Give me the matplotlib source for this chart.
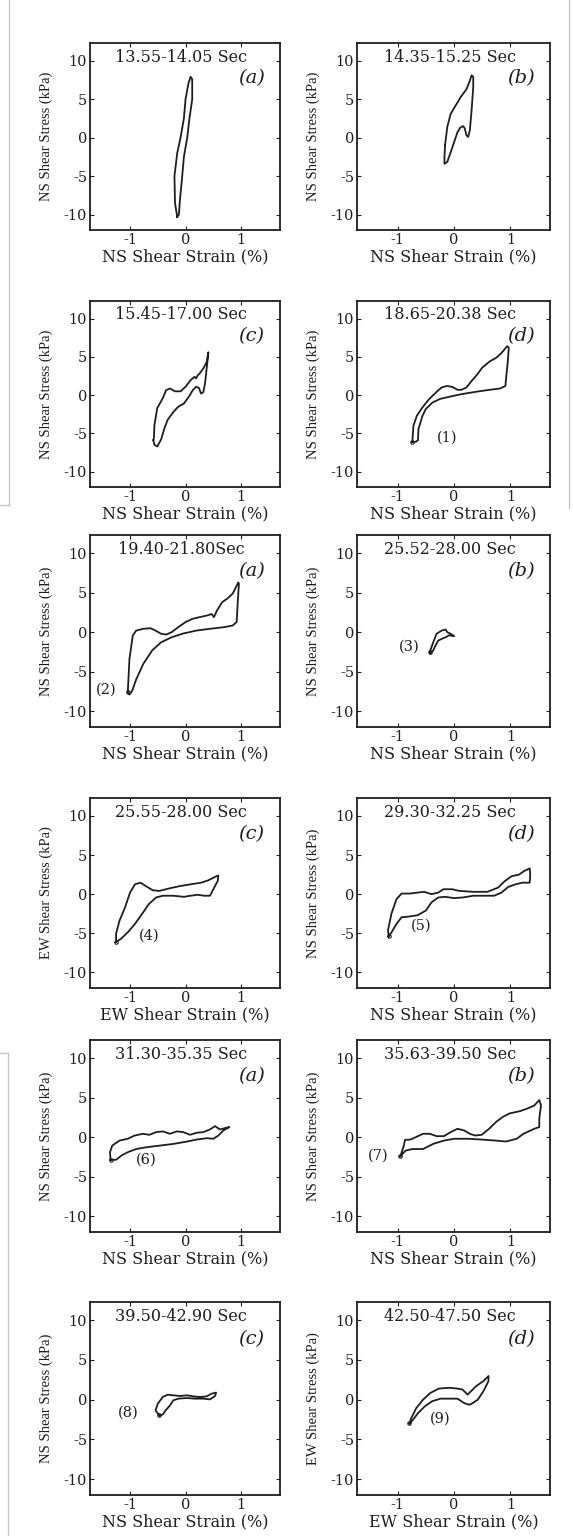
import matplotlib
matplotlib.use("Agg")
import matplotlib.pyplot as plt
from matplotlib.lines import Line2D

plt.rcParams["axes.unicode_minus"] = False
plt.rcParams["font.family"] = "DejaVu Serif"

# Time windows, panel letters and directions for the 12 stress-strain loops
windows = ["13.55-14.05 Sec", "14.35-15.25 Sec", "15.45-17.00 Sec", "18.65-20.38 Sec",
           "19.40-21.80Sec", "25.52-28.00 Sec", "25.55-28.00 Sec", "29.30-32.25 Sec",
           "31.30-35.35 Sec", "35.63-39.50 Sec", "39.50-42.90 Sec", "42.50-47.50 Sec"]
letters = ["(a)", "(b)", "(c)", "(d)", "(a)", "(b)", "(c)", "(d)", "(a)", "(b)", "(c)", "(d)"]
directions = ["NS", "NS", "NS", "NS", "NS", "NS", "EW", "NS", "NS", "NS", "NS", "EW"]

# loop number labels and where they sit (strain %, stress kPa)
loop_labels = [None, None, None, "(1)", "(2)", "(3)", "(4)", "(5)", "(6)", "(7)", "(8)", "(9)"]
loop_label_x = [0, 0, 0, -0.12, -1.42, -0.8, -0.66, -0.59, -0.71, -1.35, -1.04, -0.24]
loop_label_y = [0, 0, 0, -5.5, -7.3, -1.8, -5.3, -4.0, -2.8, -2.3, -1.6, -2.4]

strain_1 = [-0.15, -0.19, -0.2, -0.15, -0.09, -0.03, 0.0, 0.05, 0.09, 0.12, 0.12, 0.07, 0.03,
            -0.03, -0.06, -0.1, -0.12, -0.15]
stress_1 = [-10.3, -8.5, -5, -2, 0, 2.5, 5, 7, 7.9, 7.6, 5, 2.5, 0, -2.5, -5, -8, -10, -10.3]

strain_2 = [-0.16, -0.12, -0.06, 0.03, 0.12, 0.22, 0.28, 0.31, 0.34, 0.34, 0.31, 0.28, 0.25,
            0.22, 0.19, 0.16, 0.11, 0.06, 0.0, -0.06, -0.12, -0.17, -0.17, -0.16]
stress_2 = [-1.0, 1.4, 3.1, 4.2, 5.3, 6.3, 7.4, 8.1, 7.9, 6.6, 3.5, 0.95, 0.1,
            0.3, 1.2, 1.5, 1.3, 0.7, -0.6, -1.9, -3.15, -3.4, -2.5, -1.0]

strain_3 = [-0.58, -0.57, -0.56, -0.51, -0.41, -0.35, -0.28, -0.19, -0.09, 0.0, 0.09, 0.16,
            0.19, 0.22, 0.25, 0.32, 0.38, 0.41, 0.41, 0.38, 0.35, 0.32, 0.28, 0.24, 0.19, 0.13,
            0.06, -0.03, -0.13, -0.22, -0.32, -0.38, -0.44, -0.51, -0.56, -0.58]
stress_3 = [-5.9, -5.6, -3.9, -1.7, -0.4, 0.65, 0.87, 0.5, 0.5, 1.1, 1.95, 2.4,
            2.2, 2.6, 2.8, 3.5, 4.3, 5.6, 5.4, 3.5, 1.5, 0.4, 0.2, 0.95, 1.1, 0.65,
            -0.2, -1.1, -1.5, -2.2, -3.2, -4.3, -5.8, -6.7, -6.5, -5.9]

strain_4 = [-0.74, -0.72, -0.66, -0.56, -0.44, -0.31, -0.22, -0.13, -0.03, 0.06, 0.13, 0.22,
            0.31, 0.41, 0.5, 0.63, 0.75, 0.84, 0.94, 0.97, 0.95, 0.92, 0.91, 0.81, 0.63, 0.38,
            0.13, -0.06, -0.25, -0.38, -0.5, -0.56, -0.63, -0.64, -0.68, -0.74]
stress_4 = [-6.1, -4.0, -2.7, -1.6, -0.5, 0.43, 1.0, 1.2, 1.08, 0.7, 0.7, 1.0,
            1.85, 2.7, 3.6, 4.4, 4.9, 5.5, 6.4, 6.2, 4.2, 2.1, 1.2, 0.86, 0.7, 0.43,
            0.13, -0.17, -0.5, -0.95, -1.8, -2.7, -4.4, -5.9, -6.1, -6.1]

strain_5 = [-1.04, -1.01, -0.95, -0.89, -0.76, -0.63, -0.54, -0.44, -0.35, -0.25, -0.13, 0.0,
            0.13, 0.25, 0.38, 0.47, 0.51, 0.57, 0.66, 0.76, 0.85, 0.95, 0.96, 0.94, 0.92, 0.85,
            0.7, 0.44, 0.19, -0.06, -0.25, -0.44, -0.6, -0.76, -0.89, -0.96, -1.01, -1.04]
stress_5 = [-7.6, -3.4, -0.43, 0.2, 0.43, 0.5, 0.2, -0.2, -0.3, 0.0, 0.64, 1.28,
            1.7, 1.9, 2.1, 2.3, 1.9, 2.8, 3.8, 4.3, 4.9, 6.3, 6.1, 3.8, 1.3, 0.85,
            0.64, 0.43, 0.2, -0.2, -0.64, -1.28, -2.3, -4.0, -6.0, -7.4, -7.9, -7.6]

strain_6 = [-0.43, -0.37, -0.31, -0.22, -0.15, -0.12, -0.06, 0.0, -0.09, -0.15, -0.22, -0.28,
            -0.33, -0.37, -0.42, -0.43]
stress_6 = [-2.5, -1.3, -0.2, 0.2, 0.34, 0.0, -0.2, -0.5, -0.4, -0.64, -0.85, -1.06,
            -1.7, -2.3, -2.75, -2.5]

strain_7 = [-1.25, -1.25, -1.19, -1.09, -1.0, -0.91, -0.81, -0.72, -0.59, -0.47, -0.28, -0.09,
            0.09, 0.28, 0.41, 0.5, 0.59, 0.58, 0.53, 0.5, 0.47, 0.44, 0.34, 0.22, 0.09, -0.03,
            -0.22, -0.41, -0.53, -0.66, -0.78, -0.91, -1.03, -1.16, -1.25]
stress_7 = [-6.1, -5.05, -3.4, -1.7, 0.2, 1.26, 1.47, 1.05, 0.5, 0.42, 0.76, 1.05,
            1.26, 1.47, 1.77, 2.1, 2.4, 1.7, 1.05, 0.63, 0.2, -0.2, -0.2, -0.08, -0.2, -0.34,
            -0.2, -0.2, -0.42, -1.26, -2.5, -3.8, -4.8, -5.7, -6.1]

strain_8 = [-1.16, -1.17, -1.11, -1.02, -0.93, -0.78, -0.65, -0.53, -0.4, -0.28, -0.19, -0.03,
            0.09, 0.34, 0.59, 0.78, 0.9, 1.02, 1.15, 1.24, 1.34, 1.35, 1.34, 1.21, 1.09, 0.96,
            0.84, 0.71, 0.53, 0.34, 0.16, 0.0, -0.16, -0.28, -0.4, -0.5, -0.65, -0.84, -0.93,
            -1.02, -1.11, -1.16]
stress_8 = [-5.4, -4.6, -2.5, -0.63, 0.08, 0.08, 0.2, 0.3, 0.0, 0.2, 0.63, 0.63,
            0.42, 0.3, 0.3, 0.84, 1.68, 2.3, 2.5, 2.95, 3.3, 2.5, 1.47, 1.47, 1.26, 0.93,
            0.2, -0.2, -0.2, -0.2, -0.42, -0.5, -0.34, -0.42, -1.05, -2.1, -2.7, -2.9, -2.95,
            -3.8, -4.9, -5.4]

strain_9 = [-1.35, -1.36, -1.32, -1.19, -1.04, -0.92, -0.77, -0.65, -0.53, -0.41, -0.28, -0.16,
            -0.04, 0.08, 0.2, 0.32, 0.44, 0.53, 0.62, 0.71, 0.79, 0.68, 0.59, 0.5, 0.38, 0.2,
            0.02, -0.22, -0.47, -0.71, -0.89, -1.04, -1.16, -1.25, -1.35]
stress_9 = [-2.86, -1.9, -1.07, -0.43, -0.2, 0.2, 0.43, 0.3, 0.64, 0.73, 0.43, 0.73,
            0.64, 0.3, 0.56, 0.64, 0.98, 1.4, 0.98, 1.15, 1.28, 0.85, 0.2, -0.2, -0.13, -0.3,
            -0.56, -0.85, -1.07, -1.28, -1.5, -1.9, -2.35, -2.86, -2.86]

strain_10 = [-0.95, -0.89, -0.87, -0.77, -0.68, -0.55, -0.43, -0.31, -0.18, -0.06, 0.06, 0.18,
             0.28, 0.37, 0.49, 0.62, 0.74, 0.86, 0.98, 1.17, 1.29, 1.42, 1.51, 1.54, 1.51, 1.51,
             1.42, 1.23, 1.11, 0.92, 0.74, 0.49, 0.25, 0.0, -0.18, -0.37, -0.55, -0.74, -0.86,
             -0.95]
stress_10 = [-2.4, -1.06, -0.34, -0.3, 0.0, 0.43, 0.43, 0.13, 0.13, 0.64, 1.06, 0.85,
             0.43, 0.21, 0.3, 1.06, 1.9, 2.55, 3.0, 3.3, 3.6, 4.0, 4.7, 4.0, 2.34, 1.28,
             1.06, 0.43, -0.2, -0.55, -0.43, -0.3, -0.2, -0.2, -0.43, -0.85, -1.5, -1.5, -1.7,
             -2.4]

strain_11 = [-0.47, -0.54, -0.5, -0.41, -0.32, -0.22, -0.1, 0.02, 0.14, 0.26, 0.38, 0.47,
             0.55, 0.53, 0.44, 0.32, 0.17, 0.02, -0.13, -0.22, -0.28, -0.36, -0.41, -0.47]
stress_11 = [-1.98, -1.35, -0.5, 0.34, 0.63, 0.55, 0.46, 0.55, 0.42, 0.34, 0.42, 0.76,
             0.89, 0.46, 0.04, 0.13, 0.13, 0.21, 0.13, -0.08, -0.72, -1.35, -1.86, -1.98]

strain_12 = [-0.79, -0.76, -0.67, -0.55, -0.42, -0.27, -0.09, 0.06, 0.15, 0.24, 0.3, 0.39,
             0.52, 0.61, 0.61, 0.52, 0.42, 0.33, 0.27, 0.18, 0.06, -0.09, -0.24, -0.39, -0.52,
             -0.64, -0.73, -0.79]
stress_12 = [-2.98, -2.34, -1.06, 0.0, 0.85, 1.4, 1.5, 1.4, 1.28, 0.64, 1.06, 1.7,
             2.34, 2.98, 2.34, 1.06, 0.0, -0.43, -0.64, -0.43, 0.13, 0.13, 0.13, -0.2, -0.85,
             -1.7, -2.55, -2.98]

strains = [strain_1, strain_2, strain_3, strain_4, strain_5, strain_6,
           strain_7, strain_8, strain_9, strain_10, strain_11, strain_12]
stresses = [stress_1, stress_2, stress_3, stress_4, stress_5, stress_6,
            stress_7, stress_8, stress_9, stress_10, stress_11, stress_12]

W, H = 573, 1536
fig = plt.figure(figsize=(W / 100, H / 100), dpi=100)

# axes boxes in pixels (top, bottom) per row and (left, right) per column
row_px = [(43, 230), (301, 487), (535, 727), (798, 988), (1040, 1232), (1302, 1495)]
col_px = [(90, 280), (357, 550)]

# faint page edges from the scan
edge = (0.78, 0.78, 0.78)
fig.add_artist(Line2D([9 / W, 9 / W], [1, 1 - 505 / H], color=edge, lw=1))
fig.add_artist(Line2D([0, 9 / W], [1 - 505 / H, 1 - 505 / H], color=edge, lw=1))
fig.add_artist(Line2D([569 / W, 569 / W], [1, 1 - 508 / H], color=edge, lw=1))
fig.add_artist(Line2D([8 / W, 8 / W], [1 - 1053 / H, 0], color=edge, lw=1))
fig.add_artist(Line2D([0, 8 / W], [1 - 1053 / H, 1 - 1053 / H], color=edge, lw=1))

ink = "#1e1e1e"
for i in range(12):
    top, bot = row_px[i // 2]
    left, right = col_px[i % 2]
    ax = fig.add_axes([left / W, 1 - bot / H, (right - left) / W, (bot - top) / H])
    ax.plot(strains[i], stresses[i], color=ink, lw=1.3, solid_joinstyle="round")
    if loop_labels[i]:
        ax.plot(strains[i][0], stresses[i][0], "o", ms=2.5, mfc="none", mec=ink, mew=0.8)
        ax.text(loop_label_x[i], loop_label_y[i], loop_labels[i], fontsize=10.5,
                color=ink, ha="center", va="center")
    ax.set_xlim(-1.72, 1.7)
    ax.set_ylim(-12, 12.3)
    ax.set_xticks([-1, 0, 1])
    ax.set_yticks([-10, -5, 0, 5, 10])
    ax.tick_params(direction="in", length=3, width=0.8, top=True, right=True,
                   labelsize=10.5, pad=2, colors=ink)
    for s in ax.spines.values():
        s.set_linewidth(1.3)
        s.set_color(ink)
    ax.text(0.48, 0.925, windows[i], transform=ax.transAxes, ha="center", va="center",
            fontsize=11.5, color=ink)
    ax.text(0.85, 0.81, letters[i], transform=ax.transAxes, ha="center", va="center",
            fontsize=14, style="italic", color=ink)
    d = directions[i]
    ax.set_xlabel(d + " Shear Strain (%)", fontsize=11.5, color=ink, labelpad=1)
    ax.set_ylabel(d + " Shear Stress (kPa)", fontsize=10.5, color=ink, labelpad=8,
                  family="Liberation Serif")

fig.savefig("out.png", dpi=100)
